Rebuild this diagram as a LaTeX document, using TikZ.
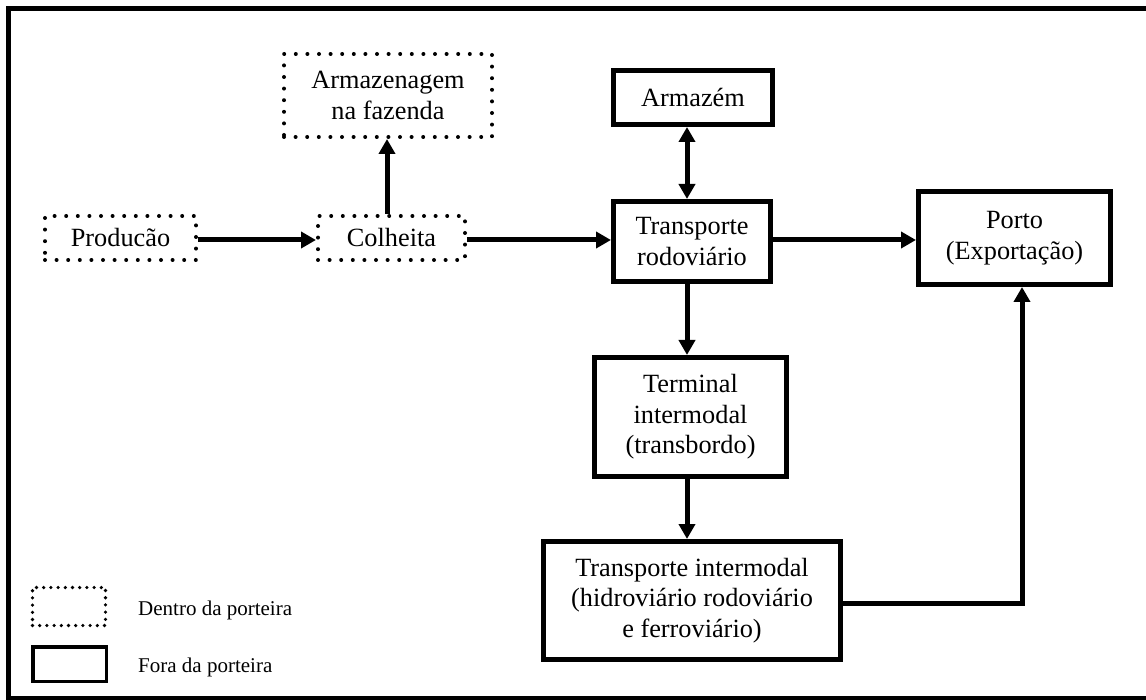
\documentclass[tikz,border=0pt]{standalone}
\usepackage{fontspec}
\setmainfont{Liberation Serif}
\usetikzlibrary{arrows.meta}
\begin{document}
\begin{tikzpicture}[x=1pt,y=-1pt,
  >={Triangle[length=15pt,width=16pt]},
  txt/.style={font=\fontsize{26.3}{30.5}\selectfont, align=center, inner sep=0pt},
  inside/.style={txt, draw, line width=4pt, line cap=round, dash pattern=on 0pt off 11.6pt},
  outside/.style={txt, draw, line width=5pt},
  arr/.style={line width=5pt, ->},
  legtxt/.style={font=\fontsize{21}{24}\selectfont, anchor=base west, inner sep=0pt}]

\useasboundingbox (0,0) rectangle (1146,700);
\fill[white] (0,0) rectangle (1146,700);

% frame (open on the right)
\draw[line width=5pt, line join=miter] (1150,8.5) -- (8.5,8.5) -- (8.5,698) -- (1150,698);

% stages inside the farm gate
\node[inside, minimum width=151pt, minimum height=44pt] (prod) at (120.5,238) {Producão};
\node[inside, minimum width=147pt, minimum height=44pt] (colh) at (391.5,238) {Colheita};
\node[inside, minimum width=208pt, minimum height=83pt] (armfaz) at (388,95.5) {Armazenagem\\na fazenda};

% stages outside the farm gate
\node[outside, minimum width=159pt, minimum height=54pt] (armz) at (693,97.5) {Armazém};
\node[outside, minimum width=157pt, minimum height=80pt] (trod) at (692,241.5) {Transporte\\rodoviário};
\node[outside, minimum width=192pt, minimum height=93pt] (porto) at (1014.5,238) {Porto\\(Exportação)};
\node[outside, minimum width=192pt, minimum height=119pt] (term) at (690.5,417) {Terminal\\intermodal\\(transbordo)};
\node[outside, minimum width=297pt, minimum height=118pt] (tint) at (692,600.5) {Transporte intermodal\\(hidroviário rodoviário\\e ferroviário)};

% guide coordinates for the connectors
\coordinate (hy) at (0,240);
\coordinate (vx) at (687,0);
\coordinate (ux) at (387,0);
\coordinate (bend) at (1022,603);

% connectors
\draw[arr] (hy -| prod.east) -- (hy -| colh.west);
\draw[arr] (hy -| colh.east) -- (hy -| trod.west);
\draw[arr] (ux |- colh.north) -- (ux |- armfaz.south);
\draw[line width=5pt, <->] (vx |- trod.north) -- (vx |- armz.south);
\draw[arr] (hy -| trod.east) -- (hy -| porto.west);
\draw[arr] (vx |- trod.south) -- (vx |- term.north);
\draw[arr] (vx |- term.south) -- (vx |- tint.north);
\draw[arr, line join=miter] (bend -| tint.east) -- (bend) -- (bend |- porto.south);

% legend
\node[draw, line width=3.6pt, line cap=round, dash pattern=on 0pt off 7.2pt,
      minimum width=73pt, minimum height=38pt, inner sep=0pt] (legin) at (69,606.5) {};
\node[draw, line width=3.5pt, minimum width=73.5pt, minimum height=34.5pt, inner sep=0pt] (legout) at (69.5,664) {};
\node[legtxt] (legintxt) at (138,615) {Dentro da porteira};
\node[legtxt] (legouttxt) at (138,672) {Fora da porteira};
\end{tikzpicture}
\end{document}
